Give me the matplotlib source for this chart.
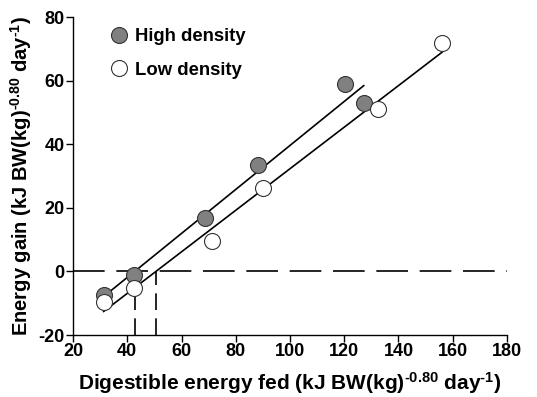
import matplotlib
matplotlib.use("Agg")
import matplotlib.pyplot as plt
import numpy as np

plt.rcParams.update({
    "font.family": "Liberation Sans",
    "font.weight": "bold",
    "axes.unicode_minus": False,
    "mathtext.fontset": "custom",
    "mathtext.rm": "Liberation Sans:bold",
    "mathtext.bf": "Liberation Sans:bold",
    "mathtext.default": "bf",
})

# ── data ──
high_x = [31.3, 42.6, 68.5, 88.3, 120.4, 127.2]
high_y = [-7.4, -1.1, 16.7, 33.4, 58.9, 53.1]
low_x = [31.3, 42.6, 71.2, 89.9, 132.6, 156.1]
low_y = [-9.7, -5.1, 9.5, 26.1, 51.2, 72.0]

x_ticks = [20, 40, 60, 80, 100, 120, 140, 160, 180]
y_ticks = [-20, 0, 20, 40, 60, 80]

fig = plt.figure(figsize=(5.37, 3.97), dpi=100)
ax = fig.add_axes([0.136, 0.156, 0.808, 0.801])

# regression lines
fits = []
for xs, ys in [(high_x, high_y), (low_x, low_y)]:
    m, b = np.polyfit(xs, ys, 1)
    fits.append((m, b))
    xx = np.array([min(xs), max(xs)])
    ax.plot(xx, m * xx + b, color="black", lw=1.2, zorder=2)

# zero line and x-intercepts
ax.axhline(0, color="black", lw=1.2, dashes=(19, 7), zorder=1)
for m, b in fits:
    x0 = -b / m
    ax.plot([x0, x0], [-20, 0], color="black", lw=1.2, dashes=(10, 5), zorder=1)

ax.plot(high_x, high_y, "o", ms=11.5, mfc="#808080", mec="#333333", mew=0.8,
        label="High density", zorder=3)
ax.plot(low_x, low_y, "o", ms=11.5, mfc="white", mec="#333333", mew=0.8,
        label="Low density", zorder=4)

ax.set_xlim(20, 180)
ax.set_ylim(-20, 80)
ax.set_xticks(x_ticks)
ax.set_yticks(y_ticks)
ax.tick_params(direction="out", length=5, width=1, labelsize=13, pad=1)
for s in ["top", "right"]:
    ax.spines[s].set_visible(False)
ax.spines["left"].set_linewidth(1)
ax.spines["bottom"].set_linewidth(1)

ax.set_xlabel(r"Digestible energy fed (kJ BW(kg)$^{\text{-0.80}}$ day$^{\text{-1}}$)",
              fontsize=15, fontweight="bold", labelpad=7)
ax.set_ylabel(r"Energy gain (kJ BW(kg)$^{\text{-0.80}}$ day$^{\text{-1}}$)",
              fontsize=14.5, fontweight="bold", labelpad=3)

ax.legend(loc="upper left", frameon=False, fontsize=13.3, handletextpad=0.3,
          borderaxespad=0.2, labelspacing=0.9, bbox_to_anchor=(0.058, 1.0),
          handlelength=1.1)

plt.savefig("out.png", dpi=100)
